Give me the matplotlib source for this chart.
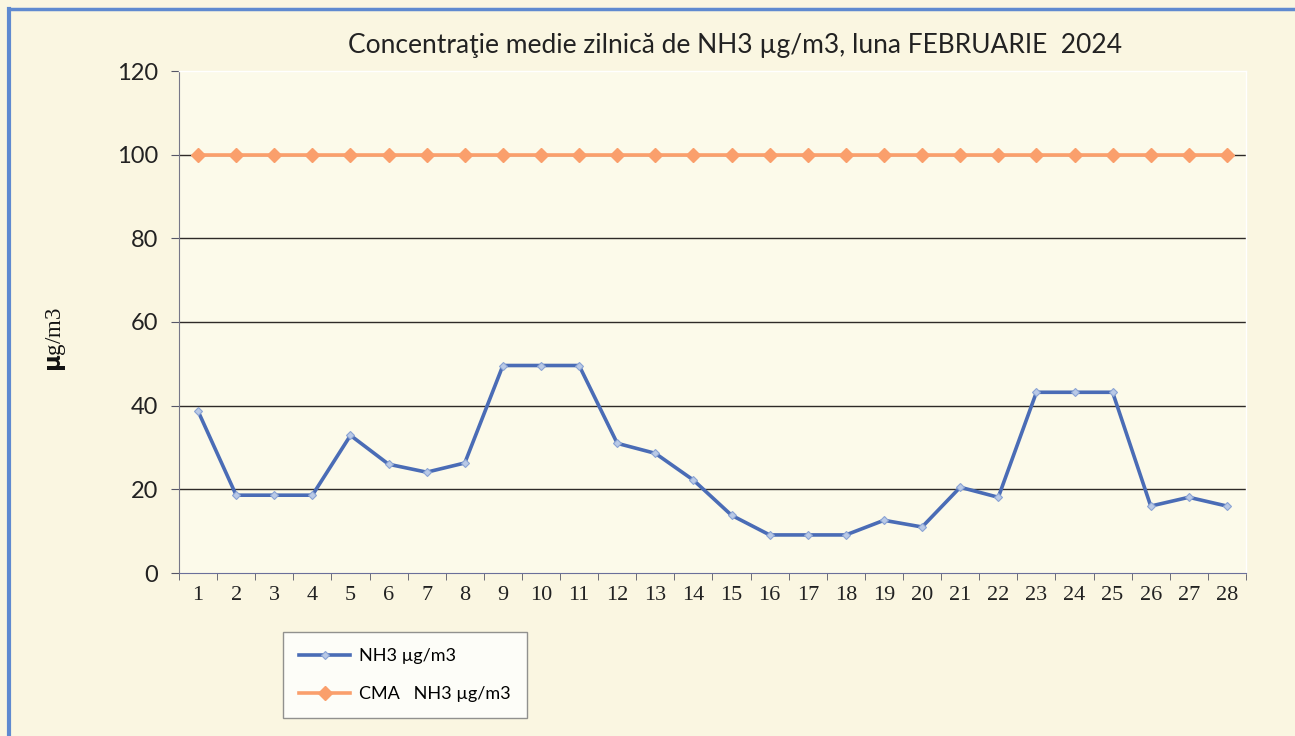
import matplotlib
matplotlib.use("Agg")
import matplotlib.pyplot as plt
from matplotlib.lines import Line2D

days = list(range(1, 29))
nh3 = [38.7, 18.6, 18.6, 18.6, 32.9, 26.0, 24.1, 26.3, 49.6, 49.6,
       49.6, 31.0, 28.6, 22.2, 13.8, 9.1, 9.1, 9.1, 12.6, 11.0,
       20.5, 18.1, 43.2, 43.2, 43.2, 16.0, 18.1, 16.0]
cma = [100] * 28
y_ticks = [0, 20, 40, 60, 80, 100, 120]

title = "Concentraţie medie zilnică de NH3 µg/m3, luna FEBRUARIE  2024"

plt.rcParams["font.family"] = ["Lato", "DejaVu Sans"]

fig = plt.figure(figsize=(12.95, 7.36), dpi=100)
fig.patch.set_facecolor("#faf6e1")
ax = fig.add_axes([179 / 1295, 1 - 573 / 736, (1246 - 179) / 1295, (573 - 71) / 736])
ax.set_facecolor("#fcfaea")

for v in y_ticks[1:-1]:
    ax.axhline(v, color="#2e2a28", linewidth=1.0, zorder=1)
ax.axhline(120, color="white", linewidth=1.2, zorder=1)

ax.plot(days, nh3, color="#4a6cb6", linewidth=2.6, marker="D", markersize=4,
        markerfacecolor="#b9c9e6", markeredgecolor="#8aa3d4", markeredgewidth=0.8,
        label="NH3 µg/m3", zorder=3)
ax.plot(days, cma, color="#fa9f6c", linewidth=2.6, marker="D", markersize=7,
        markerfacecolor="#fa9f6c", markeredgecolor="#fa9f6c",
        label="CMA   NH3 µg/m3", zorder=3)

ax.set_xlim(0.5, 28.5)
ax.set_ylim(0, 120)
ax.set_yticks(y_ticks)
ax.set_yticklabels([str(v) for v in y_ticks], fontsize=17, color="#222222")
ax.set_xticks(days)
ax.set_xticklabels([str(d) for d in days], fontsize=16, color="#222222",
                   family=["Liberation Serif", "DejaVu Serif"])
ax.set_xticks([d + 0.5 for d in range(0, 29)], minor=True)
ax.tick_params(axis="x", which="major", length=0, pad=9)
ax.tick_params(axis="x", which="minor", length=5, color="#555566", direction="out")
ax.tick_params(axis="y", length=6, color="#555566", direction="out", pad=9)

for side in ["top", "right"]:
    ax.spines[side].set_color("white")
    ax.spines[side].set_linewidth(1.0)
ax.spines["left"].set_color("#777788")
ax.spines["bottom"].set_color("#6a6f9a")

fig.text(735 / 1295, 1 - 45 / 736, title, ha="center", va="center", fontsize=19,
         color="#222222")
fig.text(56 / 1295, 1 - 340 / 736, r"$\mathbf{\mu}$g/m3", rotation=90, ha="center",
         va="center", fontsize=16.5, color="#111111",
         family=["Liberation Serif", "DejaVu Serif"])

leg = fig.legend(loc="upper left", bbox_to_anchor=(283 / 1295, 1 - 632 / 736),
                 frameon=True, fancybox=False, fontsize=13, handlelength=2.8,
                 labelspacing=1.2, borderpad=0.9, handletextpad=0.5,
                 borderaxespad=0)
leg.get_frame().set_edgecolor("#777777")
leg.get_frame().set_facecolor("white")
leg.get_frame().set_linewidth(1.0)

# outer chart border (blue)
fig.add_artist(Line2D([9 / 1295, 9 / 1295], [0, 1 - 9 / 736], color="#5f8ad0",
                      linewidth=3, transform=fig.transFigure))
fig.add_artist(Line2D([9 / 1295, 1], [1 - 9 / 736, 1 - 9 / 736], color="#5f8ad0",
                      linewidth=2.5, transform=fig.transFigure))

fig.savefig("out.png", dpi=100, facecolor=fig.get_facecolor())
